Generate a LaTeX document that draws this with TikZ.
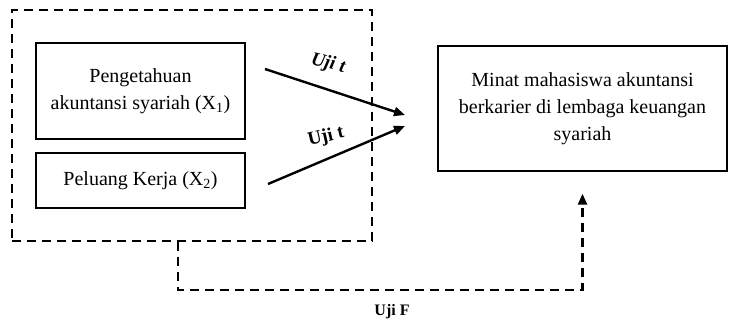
\documentclass[tikz,border=0pt]{standalone}
\usepackage{fontspec}
\setmainfont{Liberation Serif}
\usetikzlibrary{arrows.meta}
\begin{document}
\begin{tikzpicture}[x=1pt,y=-1pt,
  box/.style={draw,line width=1.4pt,minimum width=#1,inner sep=0pt,align=center,
    font=\fontsize{20}{27}\selectfont},
  dsh/.style={line width=2.6pt,dash pattern=on 9pt off 6pt},
  arr/.style={line width=2.4pt,-{Triangle[length=11pt,width=9pt]}},
  lab/.style={font=\fontsize{16}{18}\selectfont\bfseries},
  tlab/.style={font=\fontsize{19}{21}\selectfont\bfseries,inner sep=1pt}]
\useasboundingbox (0,0) rectangle (729,330);
\node[box=209pt,minimum height=96pt] (x1) at (140.5,91) {Pengetahuan\\akuntansi syariah (X\textsubscript{1})};
\node[box=209pt,minimum height=55pt] (x2) at (140.5,180.5) {Peluang Kerja (X\textsubscript{2})};
\node[box=289pt,minimum height=125pt] (y) at (582.5,108.5) {Minat mahasiswa akuntansi\\berkarier di lembaga keuangan\\syariah};
\node[draw,dsh,minimum width=360pt,minimum height=231pt,inner sep=0pt] (outer) at (192,125.5) {};
\coordinate (s1) at (265,69);
\coordinate (e1) at (405,115);
\coordinate (s2) at (268,184);
\coordinate (e2) at (405,126);
\draw[arr] (s1) -- (e1);
\draw[arr] (s2) -- (e2);
\node[tlab,rotate=-13] (t1) at (328,64) {\itshape Uji t};
\node[tlab,rotate=13] (t2) at (326,137) {Uji t};
\coordinate (f0) at (178,290);
\coordinate (fe) at ([yshift=-22pt]y.south);
\draw[dsh,-{Triangle[length=11pt,width=9pt]}] (outer.south -| f0) -- (f0) -| (fe);
\node[lab] (uf) at (392,312) {Uji F};
\end{tikzpicture}
\end{document}
